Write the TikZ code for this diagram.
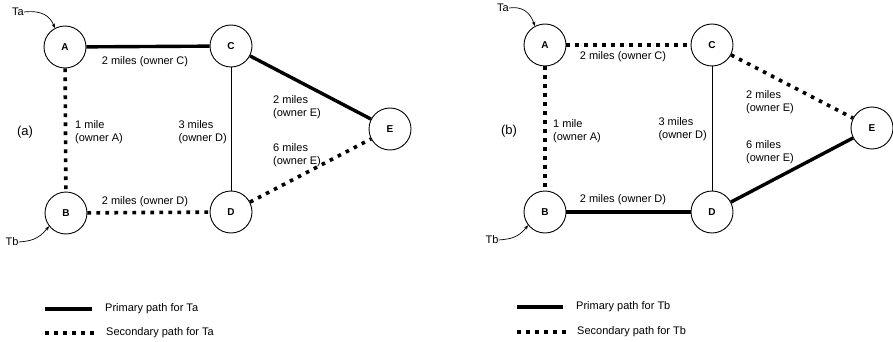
\documentclass[tikz,border=0pt]{standalone}
\usepackage{fontspec}
\setmainfont{Liberation Sans}
\usetikzlibrary{arrows.meta}
\begin{document}
\begin{tikzpicture}[x=1pt,y=-1pt,
  site/.style={circle,draw,line width=0.9pt,minimum size=42pt,inner sep=0pt,
    font=\fontsize{10}{12}\selectfont\bfseries},
  primary/.style={line width=3.4pt},
  secondary/.style={line width=3.6pt,dash pattern=on 3.6pt off 5.4pt},
  spare/.style={line width=0.8pt},
  lbl/.style={font=\fontsize{11}{12.5}\selectfont,inner sep=0pt,align=left},
  tag/.style={font=\fontsize{13}{15}\selectfont,inner sep=0pt},
  feed/.style={line width=0.7pt,-{Stealth[length=4.5pt,width=3.5pt]}},
  legtext/.style={font=\fontsize{11}{12}\selectfont,anchor=west,inner sep=0pt}
]
\useasboundingbox (0,0) rectangle (893,342);

% ---------- (a): routes for Ta ----------
\node[site] (aA) at (65,47)  {A};
\node[site] (aC) at (231,46) {C};
\node[site] (aE) at (390,129) {E};
\node[site] (aB) at (66,213) {B};
\node[site] (aD) at (231,212) {D};

\draw[primary]   (aA) -- (aC);
\draw[primary]   (aC) -- (aE);
\draw[secondary] (aA) -- (aB);
\draw[secondary] (aB) -- (aD);
\draw[secondary] (aD) -- (aE);
\draw[spare]     (aC) -- (aD);

\node[lbl] (aAC) at (145,62) {2 miles (owner C)};
\node[lbl,anchor=west] (aAB) at (75,132) {1 mile\\(owner A)};
\node[lbl,anchor=east] (aCD) at (227,132) {3 miles\\(owner D)};
\node[lbl,anchor=west] (aCE) at (273,107) {2 miles\\(owner E)};
\node[lbl,anchor=west] (aDE) at (273,155) {6 miles\\(owner E)};
\node[lbl] (aBD) at (145,202) {2 miles (owner D)};
\node[tag] (aTag) at (25,132) {(a)};

\node[lbl] (aTa) at (18,12) {Ta};
\draw[feed] (aTa.east) .. controls (42,10) and (50,16) .. (aA.118);
\node[lbl] (aTb) at (12,242) {Tb};
\draw[feed] (aTb.east) .. controls (30,241) and (38,240) .. (aB.218);

% ---------- (b): routes for Tb ----------
\node[site] (bA) at (545,45)  {A};
\node[site] (bC) at (712,45)  {C};
\node[site] (bE) at (872,128) {E};
\node[site] (bB) at (545,212) {B};
\node[site] (bD) at (712,212) {D};

\draw[primary]   (bB) -- (bD);
\draw[primary]   (bD) -- (bE);
\draw[secondary] (bA) -- (bC);
\draw[secondary] (bC) -- (bE);
\draw[secondary] (bA) -- (bB);
\draw[spare]     (bC) -- (bD);

\node[lbl] (bAC) at (623,57) {2 miles (owner C)};
\node[lbl,anchor=west] (bAB) at (553,131) {1 mile\\(owner A)};
\node[lbl,anchor=east] (bCD) at (707,129) {3 miles\\(owner D)};
\node[lbl,anchor=west] (bCE) at (746,102) {2 miles\\(owner E)};
\node[lbl,anchor=west] (bDE) at (746,152) {6 miles\\(owner E)};
\node[lbl] (bBD) at (623,200) {2 miles (owner D)};
\node[tag] (bTag) at (509,131) {(b)};

\node[lbl] (bTa) at (503,8) {Ta};
\draw[feed] (bTa.east) .. controls (522,6) and (530,12) .. (bA.118);
\node[lbl] (bTb) at (492,240) {Tb};
\draw[feed] (bTb.east) .. controls (510,239) and (518,238) .. (bB.218);

% ---------- legends ----------
\coordinate (la1) at (45,309);  \coordinate (la2) at (92,309);
\coordinate (la3) at (45,333);  \coordinate (la4) at (94,333);
\draw[primary]   (la1) -- (la2);
\draw[secondary] (la3) -- (la4);
\node[legtext] (laP) at (105,309) {Primary path for Ta};
\node[legtext] (laS) at (106,333) {Secondary path for Ta};

\coordinate (lb1) at (517,307); \coordinate (lb2) at (563,307);
\coordinate (lb3) at (517,332); \coordinate (lb4) at (566,332);
\draw[primary]   (lb1) -- (lb2);
\draw[secondary] (lb3) -- (lb4);
\node[legtext] (lbP) at (576,307) {Primary path for Tb};
\node[legtext] (lbS) at (577,332) {Secondary path for Tb};
\end{tikzpicture}
\end{document}
